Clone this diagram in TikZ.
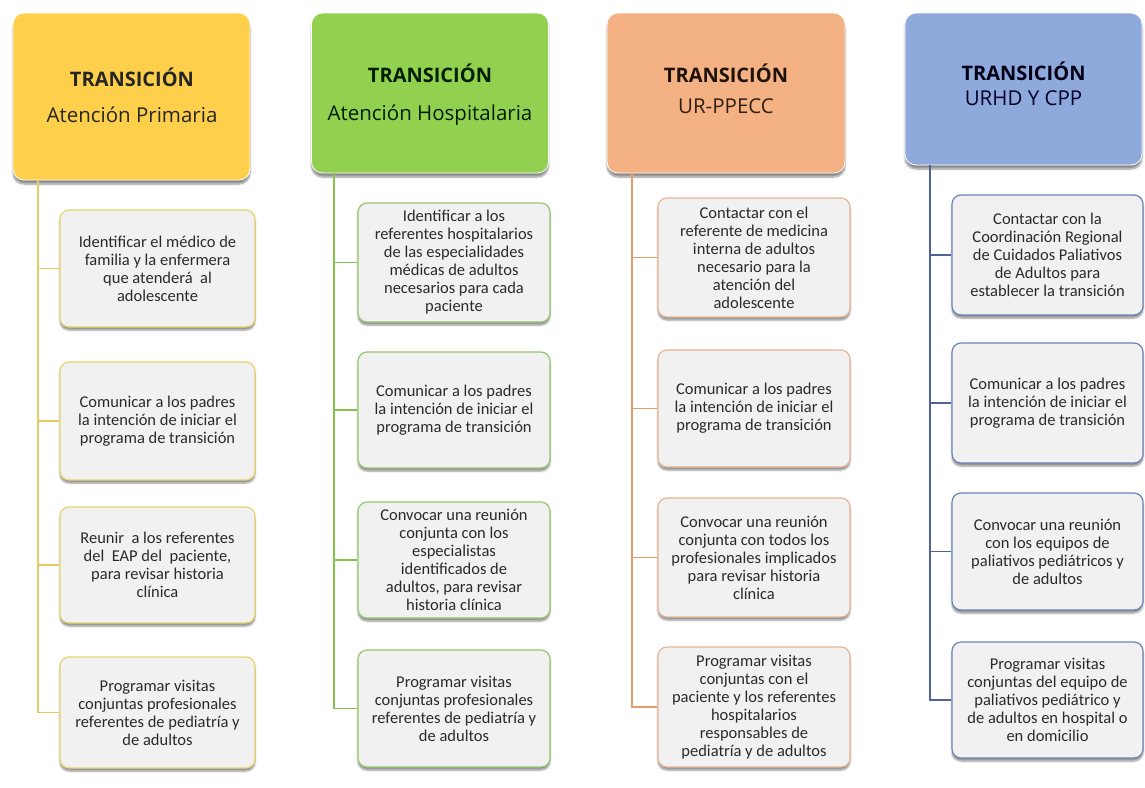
\documentclass[tikz,border=0pt]{standalone}
\usepackage{fontspec}
\setmainfont{Carlito}
\newfontfamily\hdrfont{Open Sans}
\usetikzlibrary{shadows.blur}
\definecolor{yfill}{HTML}{FDCF4A}
\definecolor{gfill}{HTML}{92D050}
\definecolor{ofill}{HTML}{F4B183}
\definecolor{bfill}{HTML}{8EA9DB}
\definecolor{yline}{HTML}{E3CB66}
\definecolor{gline}{HTML}{86C24E}
\definecolor{oline}{HTML}{E49C6C}
\definecolor{bline}{HTML}{4F6394}
\definecolor{yedge}{HTML}{E6D46A}
\definecolor{gedge}{HTML}{96C86C}
\definecolor{oedge}{HTML}{E8B594}
\definecolor{bedge}{HTML}{6B83B8}
\definecolor{cfill}{HTML}{F1F1F1}
\definecolor{ctext}{HTML}{2A2A2A}
\tikzset{
  hdrbox/.style={rounded corners=11pt, draw=white, line width=0.8pt, inner sep=0pt,
    minimum width=237pt, blur shadow={shadow xshift=0pt, shadow yshift=-4pt, shadow blur steps=6, shadow opacity=45}},
  hdrtitle/.style={font=\hdrfont\bfseries\fontsize{20}{22}\selectfont, inner sep=0pt},
  hdrsub/.style={font=\hdrfont\fontsize{20.5}{22}\selectfont, inner sep=0pt},
  childbox/.style={rounded corners=9pt, fill=cfill, line width=1.2pt, align=center,
    minimum height=117pt, inner sep=1pt, text=ctext,
    font=\fontsize{16.5}{18}\selectfont,
    blur shadow={shadow xshift=0pt, shadow yshift=-3pt, shadow blur steps=5, shadow opacity=45}},
  link/.style={line width=1.8pt}
}
\begin{document}
\begin{tikzpicture}[x=1pt,y=-1pt]
\useasboundingbox (0,0) rectangle (1145,787);
% ---------- Column 1 ----------
\node[hdrbox, fill=yfill, minimum height=167pt] (h1) at (131.5,96.5) {};
\node[hdrtitle, text=black!85] (h1t) at (132,77) {TRANSICIÓN};
\node[hdrsub, text=black!85] (h1s) at (132,115) {Atención Primaria};
\node[childbox, draw=yedge, minimum width=195pt] (a1) at (157.5,268.5) {Identificar el médico de\\familia y la enfermera\\que atenderá\ \ al\\adolescente};
\node[childbox, draw=yedge, minimum width=195pt, minimum height=118pt] (a2) at (157.5,421) {Comunicar a los padres\\la intención de iniciar el\\programa de transición};
\node[childbox, draw=yedge, minimum width=195pt, minimum height=116pt] (a3) at (157.5,565) {Reunir\ \ a los referentes\\del\ \ EAP del\ \ paciente,\\para revisar\ historia\\clínica};
\node[childbox, draw=yedge, minimum width=195pt, minimum height=111pt] (a4) at (157.5,712.5) {Programar visitas\\conjuntas profesionales\\referentes\ de pediatría y\\de adultos};
\coordinate (v1) at (38,180);
\draw[link, yline] (v1) |- (a4.west);
\draw[link, yline] (v1 |- a1.west) -- (a1.west);
\draw[link, yline] (v1 |- a2.west) -- (a2.west);
\draw[link, yline] (v1 |- a3.west) -- (a3.west);
% ---------- Column 2 ----------
\node[hdrbox, fill=gfill, minimum height=160pt] (h2) at (430,93) {};
\node[hdrtitle, text=black!80!green!60!black] (h2t) at (430,73) {TRANSICIÓN};
\node[hdrsub, text=black!80!green!60!black] (h2s) at (430,115) {Atención Hospitalaria};
\node[childbox, draw=gedge, minimum width=192pt, minimum height=119pt] (b1) at (454,262.5) {Identificar a los\\referentes hospitalarios\\de las especialidades\\médicas de adultos\\necesarios para cada\\paciente};
\node[childbox, draw=gedge, minimum width=192pt, minimum height=116pt] (b2) at (454,410) {Comunicar a los padres\\la intención de iniciar el\\programa de transición};
\node[childbox, draw=gedge, minimum width=192pt, minimum height=116pt] (b3) at (454,560) {Convocar una reunión\\conjunta con los\\especialistas\\identificados\ de\\adultos, para revisar\\historia clínica};
\node[childbox, draw=gedge, minimum width=192pt, minimum height=117pt] (b4) at (454,708.5) {Programar visitas\\conjuntas profesionales\\referentes de pediatría y\\de adultos};
\coordinate (v2) at (334,173);
\draw[link, gline] (v2) |- (b4.west);
\draw[link, gline] (v2 |- b1.west) -- (b1.west);
\draw[link, gline] (v2 |- b2.west) -- (b2.west);
\draw[link, gline] (v2 |- b3.west) -- (b3.west);
% ---------- Column 3 ----------
\node[hdrbox, fill=ofill, minimum height=160pt, minimum width=238pt] (h3) at (726,93) {};
\node[hdrtitle, text=black!85!brown] (h3t) at (726,73) {TRANSICIÓN};
\node[hdrsub, text=black!75!brown] (h3s) at (726,106) {UR-PPECC};
\node[childbox, draw=oedge, minimum width=192pt, minimum height=119pt] (c1) at (754,257.5) {Contactar con el\\referente de medicina\\interna de adultos\\necesario para la\\atención del\\adolescente};
\node[childbox, draw=oedge, minimum width=192pt, minimum height=117pt] (c2) at (754,408.5) {Comunicar a los padres\\la intención de iniciar el\\programa de transición};
\node[childbox, draw=oedge, minimum width=192pt, minimum height=119pt] (c3) at (754,557.5) {Convocar una reunión\\conjunta con todos los\\profesionales implicados\\para revisar\ historia\\clínica};
\node[childbox, draw=oedge, minimum width=192pt, minimum height=120pt] (c4) at (754,707) {Programar visitas\\conjuntas con el\\paciente y los referentes\\hospitalarios\\responsables de\\pediatría y de adultos};
\coordinate (v3) at (632,173);
\draw[link, oline] (v3) |- (c4.west);
\draw[link, oline] (v3 |- c1.west) -- (c1.west);
\draw[link, oline] (v3 |- c2.west) -- (c2.west);
\draw[link, oline] (v3 |- c3.west) -- (c3.west);
% ---------- Column 4 ----------
\node[hdrbox, fill=bfill, minimum height=152pt] (h4) at (1023.5,89) {};
\node[hdrtitle, text=black!80!blue!40!black] (h4t) at (1023.5,71) {TRANSICIÓN};
\node[hdrsub, text=black!70!blue!50!black] (h4s) at (1023.5,98) {URHD Y CPP};
\node[childbox, draw=bedge, minimum width=191pt, minimum height=120pt] (d1) at (1047.5,255) {Contactar con la\\Coordinación Regional\\de Cuidados Paliativos\\de Adultos para\\establecer la transición};
\node[childbox, draw=bedge, minimum width=191pt, minimum height=120pt] (d2) at (1047.5,403) {Comunicar a los padres\\la intención de iniciar el\\programa de transición};
\node[childbox, draw=bedge, minimum width=191pt, minimum height=117pt] (d3) at (1047.5,551.5) {Convocar una reunión\\con los equipos de\\paliativos pediátricos y\\de adultos};
\node[childbox, draw=bedge, minimum width=191pt, minimum height=116pt] (d4) at (1047.5,700) {Programar visitas\\conjuntas del equipo de\\paliativos pediátrico y\\de adultos en hospital o\\en domicilio};
\coordinate (v4) at (930,165);
\draw[link, bline] (v4) |- (d4.west);
\draw[link, bline] (v4 |- d1.west) -- (d1.west);
\draw[link, bline] (v4 |- d2.west) -- (d2.west);
\draw[link, bline] (v4 |- d3.west) -- (d3.west);
\end{tikzpicture}
\end{document}
